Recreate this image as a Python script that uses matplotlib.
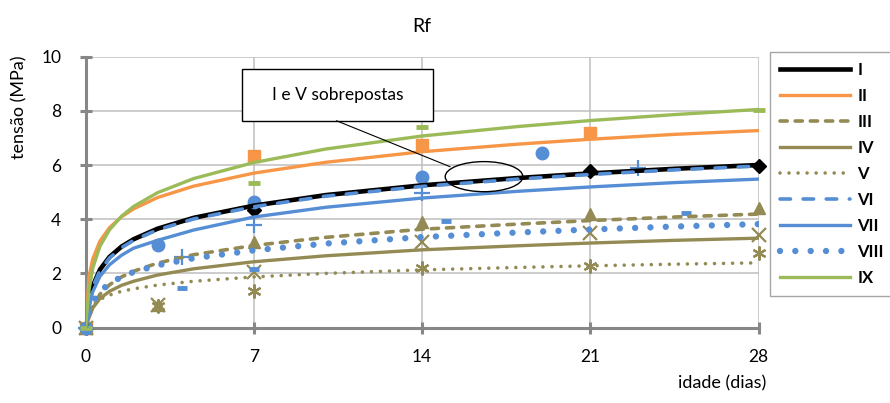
import matplotlib
matplotlib.use("Agg")
import matplotlib.pyplot as plt
from matplotlib.lines import Line2D
from matplotlib.patches import Rectangle, Ellipse

plt.rcParams['font.family'] = ['Lato', 'DejaVu Sans']

# trend curves
curve_days = [0, 0.05, 0.15, 0.3, 0.6, 1, 1.5, 2, 3, 4.5, 7, 10, 14, 18, 21, 24.5, 28]
curve_I = [0, 0.3, 0.93, 1.53, 2.14, 2.61, 2.99, 3.26, 3.65, 4.05, 4.50, 4.89, 5.25, 5.52, 5.69, 5.86, 6.00]
curve_II = [0, 0.6, 1.89, 2.53, 3.19, 3.69, 4.09, 4.38, 4.80, 5.22, 5.70, 6.10, 6.49, 6.77, 6.95, 7.13, 7.27]
curve_III = [0, 0.15, 0.42, 0.76, 1.23, 1.58, 1.87, 2.08, 2.38, 2.69, 3.03, 3.33, 3.63, 3.82, 3.95, 4.08, 4.19]
curve_IV = [0, 0.15, 0.37, 0.72, 1.07, 1.34, 1.56, 1.71, 1.94, 2.17, 2.43, 2.65, 2.87, 3.02, 3.12, 3.22, 3.30]
curve_V = [0, 0.28, 0.61, 0.82, 1.04, 1.20, 1.34, 1.43, 1.57, 1.71, 1.87, 2.00, 2.13, 2.22, 2.28, 2.34, 2.39]
curve_VI = [0, 0.28, 0.90, 1.50, 2.10, 2.57, 2.95, 3.22, 3.61, 4.01, 4.46, 4.85, 5.21, 5.48, 5.65, 5.82, 5.96]
curve_VII = [0, 0.25, 0.76, 1.32, 1.89, 2.32, 2.67, 2.93, 3.22, 3.60, 4.08, 4.44, 4.78, 5.03, 5.19, 5.35, 5.48]
curve_VIII = [0, 0.2, 0.55, 0.93, 1.33, 1.63, 1.87, 2.05, 2.30, 2.56, 2.85, 3.10, 3.34, 3.51, 3.62, 3.73, 3.82]
curve_IX = [0, 0.5, 1.41, 2.19, 3.00, 3.61, 4.11, 4.47, 4.98, 5.50, 6.09, 6.59, 7.07, 7.42, 7.64, 7.86, 8.05]

# measured points
pts_I_x, pts_I_y = [0, 7, 21, 28], [0, 4.34, 5.79, 5.97]
pts_II_x, pts_II_y = [0, 7, 14, 21], [0, 6.33, 6.74, 7.17]
pts_III_x, pts_III_y = [0, 3, 7, 14, 21, 28], [0, 0.85, 3.17, 3.91, 4.18, 4.42]
pts_IV_x, pts_IV_y = [0, 3, 7, 14, 21, 28], [0, 0.85, 2.06, 3.17, 3.50, 3.42]
pts_V_x, pts_V_y = [0, 3, 7, 14, 21, 28], [0, 0.80, 1.35, 2.19, 2.27, 2.76]
pts_VI_x, pts_VI_y = [0, 3, 7, 14, 19], [0, 3.05, 4.62, 5.57, 6.43]
pts_VII_x, pts_VII_y = [0, 4, 7, 14, 23], [0, 2.62, 3.79, 4.95, 5.88]
pts_VIII_x, pts_VIII_y = [0, 4, 7, 15, 25], [0, 1.45, 2.16, 3.95, 4.22]
pts_IX_x, pts_IX_y = [0, 7, 14, 28], [0, 5.32, 7.39, 8.03]

labels = ['I', 'II', 'III', 'IV', 'V', 'VI', 'VII', 'VIII', 'IX']
x_ticks = [0, 7, 14, 21, 28]
y_ticks = [0, 2, 4, 6, 8, 10]

black = '#000000'
orange = '#F79646'
olive = '#948A54'
blue = '#558ED5'
green = '#9BBB59'

fig = plt.figure(figsize=(8.9, 4.03), dpi=100)
ax = fig.add_axes([85.5 / 890, 1 - 327.6 / 403, 673 / 890, 271 / 403])

# markers first
mk = dict(linestyle='none', clip_on=False, zorder=3)
ax.plot(pts_I_x, pts_I_y, marker='D', ms=7, color=black, **mk)
ax.plot(pts_II_x, pts_II_y, marker='s', ms=8, color=orange, **mk)
ax.plot(pts_III_x, pts_III_y, marker='^', ms=9, color=olive, **mk)
ax.plot(pts_IV_x, pts_IV_y, marker='x', ms=10, mew=1.6, color=olive, **mk)
ax.plot(pts_V_x, pts_V_y, marker=(6, 2, 0), ms=10, mew=1.6, color=olive, **mk)
ax.plot(pts_VI_x, pts_VI_y, marker='o', ms=9, color=blue, **mk)
ax.plot(pts_VII_x, pts_VII_y, marker='+', ms=12, mew=1.6, color=blue, **mk)
ax.plot(pts_VIII_x, pts_VIII_y, marker='_', ms=7, mew=3.5, color=blue, **mk)
ax.plot(pts_IX_x, pts_IX_y, marker='_', ms=9, mew=3.5, color=green, **mk)

# trend lines
styles = [
    (curve_I, dict(color=black, lw=3.3, ls='-')),
    (curve_II, dict(color=orange, lw=2.4, ls='-')),
    (curve_III, dict(color=olive, lw=2.6, ls=(0, (2.0, 2.2)), dash_capstyle='round')),
    (curve_IV, dict(color=olive, lw=2.4, ls='-')),
    (curve_V, dict(color=olive, lw=2.6, ls=(0, (0.001, 2.5)), dash_capstyle='round')),
    (curve_VI, dict(color=blue, lw=2.6, ls=(0, (2.9, 3.5)), dash_capstyle='round')),
    (curve_VII, dict(color=blue, lw=2.4, ls='-')),
    (curve_VIII, dict(color=blue, lw=4.6, ls=(0, (0.001, 2.4)), dash_capstyle='round')),
    (curve_IX, dict(color=green, lw=2.4, ls='-')),
]
handles = []
for vals, st in styles:
    ax.plot(curve_days, vals, zorder=4, solid_capstyle='round', **st)
    handles.append(Line2D([], [], **st))

ax.set_xlim(0, 28)
ax.set_ylim(0, 10)
ax.set_xticks(x_ticks)
ax.set_yticks(y_ticks)
ax.grid(True, color='#BFBFBF', lw=1.1)
ax.set_axisbelow(True)
for s in ['top', 'right']:
    ax.spines[s].set_visible(False)
for s in ['left', 'bottom']:
    ax.spines[s].set_color('#878787')
    ax.spines[s].set_linewidth(2.2)
ax.tick_params(direction='inout', length=9, width=2.2, color='#878787',
               labelsize=12.5, labelcolor='black')
ax.tick_params(axis='y', pad=13)
ax.tick_params(axis='x', pad=11)

ax.set_title('Rf', fontsize=14, pad=18)
ax.set_ylabel('tensão (MPa)', fontsize=13)
ax.yaxis.set_label_coords(-0.087, 0.814)
ax.set_xlabel('idade (dias)', fontsize=13)
ax.xaxis.set_label_coords(0.946, -0.175)

# callout
ax.add_patch(Rectangle((6.52, 7.63), 7.95, 1.91, facecolor='white', edgecolor='black',
                       lw=1, zorder=10))
ax.text(10.5, 8.6, 'I e V sobrepostas', fontsize=12.5, ha='center', va='center', zorder=11)
ax.plot([10.45, 15.16], [7.63, 5.94], color='black', lw=0.8, zorder=10)
ax.add_patch(Ellipse((16.58, 5.57), 3.23, 1.11, facecolor='none', edgecolor='black',
                     lw=1, zorder=10))

leg = ax.legend(handles, labels, loc='upper left', bbox_to_anchor=(770 / 890, 1 - 52 / 403),
                bbox_transform=fig.transFigure, borderaxespad=0, borderpad=0.6,
                handlelength=4.2, handletextpad=0.45, labelspacing=0.6,
                prop={'weight': 'bold', 'size': 12}, fancybox=False, framealpha=1)
leg.get_frame().set_edgecolor('#A6A6A6')
leg.get_frame().set_linewidth(1.0)

fig.savefig('out.png', dpi=100)
